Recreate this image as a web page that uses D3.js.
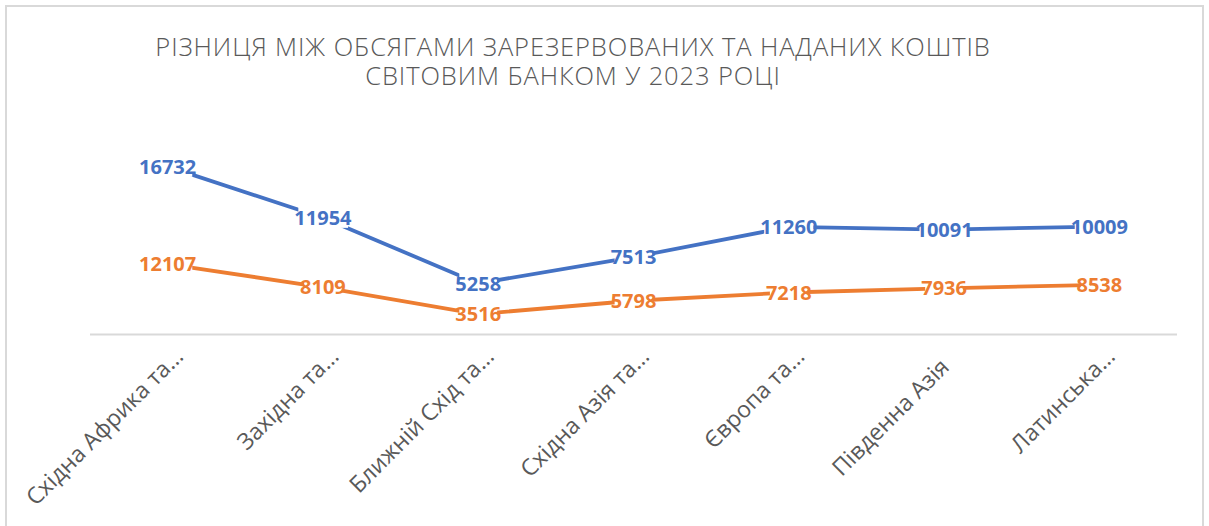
<!DOCTYPE html>
<html>
<head>
<meta charset="utf-8">
<script src="https://cdn.jsdelivr.net/npm/d3@7"></script>
<style>
  body { margin: 0; background: #fff; }
</style>
</head>
<body>
<div id="chart"></div>
<script>
// regions (as shown, truncated by the chart)
let regions = ['Східна Африка та…', 'Західна та…', 'Ближній Схід та…', 'Східна Азія та…', 'Європа та…', 'Південна Азія', 'Латинська…']

// stacked series: orange at the bottom, blue on top of it
let reserved = [16732, 11954, 5258, 7513, 11260, 10091, 10009]
let provided = [12107, 8109, 3516, 5798, 7218, 7936, 8538]

let titleLines = ['РІЗНИЦЯ МІЖ ОБСЯГАМИ ЗАРЕЗЕРВОВАНИХ ТА НАДАНИХ КОШТІВ', 'СВІТОВИМ БАНКОМ У 2023 РОЦІ']

let width = 1209
let height = 526

const svg = d3.select('#chart')
	.append('svg')
	.attr('width', width)
	.attr('height', height)

// chart frame
svg.append('rect')
	.attr('x', 6)
	.attr('y', 6)
	.attr('width', 1197)
	.attr('height', 540)
	.attr('fill', 'white')
	.attr('stroke', '#d9d9d9')
	.attr('stroke-width', 2)

let xScale = d3.scalePoint()
	.domain(regions)
	.range([90, 1177])
	.padding(0.5)

let yScale = d3.scaleLinear()
	.domain([0, 35000])
	.range([334.5, 130.8])

// title
svg.append('g')
	.selectAll('text')
	.data(titleLines)
	.enter()
	.append('text')
	.attr('x', 573)
	.attr('y', (d, i) => 55.5 + i * 29)
	.attr('text-anchor', 'middle')
	.attr('font-family', 'Open Sans')
	.attr('font-weight', 300)
	.attr('font-size', 25.5)
	.attr('letter-spacing', 0.9)
	.attr('fill', '#595959')
	.text(d => d)

// x axis
let xG = svg.append('g')
	.attr('transform', `translate(0,${yScale(0)})`)
	.call(d3.axisBottom(xScale).tickSize(0).tickPadding(0))

xG.select('.domain')
	.attr('d', `M90,0H1177`)
	.attr('stroke', '#d9d9d9')
	.attr('stroke-width', 2)

xG.selectAll('text')
	.attr('font-family', 'Open Sans')
	.attr('font-size', 23)
	.attr('fill', '#595959')
	.attr('text-anchor', 'end')
	.attr('dy', 0)
	.attr('dx', d => d.endsWith('…') ? 15 : 0)
	.attr('transform', 'translate(6,34) rotate(-45)')

let rows = regions.map(function(r, i){
	return {'region': r, 'provided': provided[i], 'top': provided[i] + reserved[i], 'reserved': reserved[i]}
})

let series = [
	{'name': 'provided', 'color': '#ED7D31', 'y': d => d.provided, 'label': d => d.provided},
	{'name': 'reserved', 'color': '#4472C4', 'y': d => d.top, 'label': d => d.reserved}
]

series.forEach(function(s){

	svg.append('path')
		.datum(rows)
		.attr('fill', 'none')
		.attr('stroke', s.color)
		.attr('stroke-width', 3.8)
		.attr('stroke-linejoin', 'round')
		.attr('d', d3.line().x(d => xScale(d.region)).y(d => yScale(s.y(d))))
})

series.forEach(function(s){

	let g = svg.append('g')

	let labels = g.selectAll('g')
		.data(rows)
		.enter()
		.append('g')
		.attr('transform', d => `translate(${xScale(d.region)},${yScale(s.y(d))})`)

	let texts = labels.append('text')
		.attr('text-anchor', 'middle')
		.attr('dy', '0.357em')
		.attr('font-family', 'Open Sans')
		.attr('font-weight', 700)
		.attr('font-size', 20)
		.attr('fill', s.color)
		.text(d => s.label(d))

	texts.each(function(){
		let b = this.getBBox()
		d3.select(this.parentNode).insert('rect', 'text')
			.attr('x', b.x + 4)
			.attr('y', b.y + 3)
			.attr('width', b.width - 8)
			.attr('height', b.height - 6)
			.attr('fill', 'white')
	})
})
</script>
</body>
</html>
